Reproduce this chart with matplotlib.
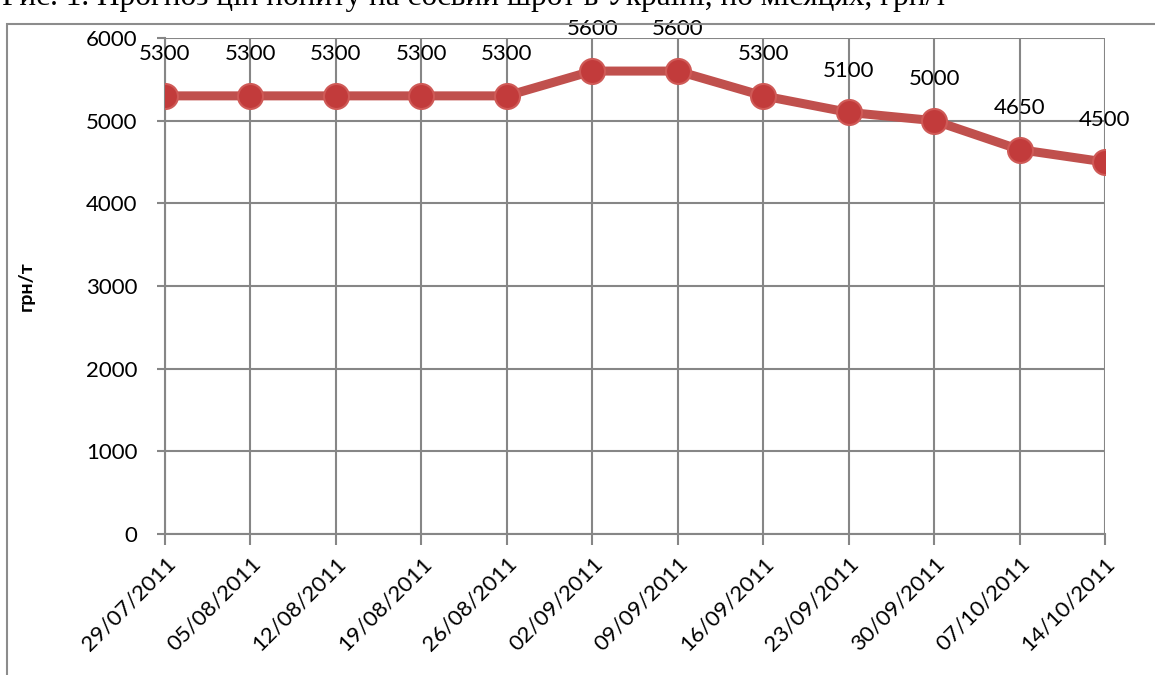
import matplotlib.pyplot as plt
from matplotlib.patches import Rectangle

# дані
dates = ["29/07/2011", "05/08/2011", "12/08/2011", "19/08/2011", "26/08/2011",
         "02/09/2011", "09/09/2011", "16/09/2011", "23/09/2011", "30/09/2011",
         "07/10/2011", "14/10/2011"]
prices = [5300, 5300, 5300, 5300, 5300, 5600, 5600, 5300, 5100, 5000, 4650, 4500]
yticks = [0, 1000, 2000, 3000, 4000, 5000, 6000]

plt.rcParams['font.family'] = ['Lato', 'Open Sans', 'DejaVu Sans']

W, H = 1155, 675
fig = plt.figure(figsize=(W / 100, H / 100), dpi=100)

# рамка навколо діаграми
fig.patches.append(Rectangle((7 / W, -0.1), 1.2, 1 - 24 / H + 0.1, transform=fig.transFigure,
                             fill=False, edgecolor='#8c8c8c', linewidth=1.5))
# підпис рисунка (у оригіналі обрізаний зверху)
fig.text(2 / W, 1 - 4.5 / H, "Рис. 1. Прогноз цін попиту на соєвий шрот в Україні, по місяцях, грн/т",
         family='Liberation Serif', fontsize=22.5, va='baseline', ha='left')

ax = fig.add_axes([165 / W, 1 - 534 / H, (1105 - 165) / W, (534 - 38) / H])
x = list(range(len(dates)))
ax.plot(x, prices, color='#C0504D', linewidth=6.5, solid_capstyle='round', zorder=3)
ax.plot(x, prices, linestyle='none', marker='o', markersize=18,
        markerfacecolor='#C23B3B', markeredgecolor='#CF5A57', markeredgewidth=1.5, zorder=4)
for xi, p in zip(x, prices):
    ax.annotate(str(p), (xi, p), xytext=(0, 30), textcoords='offset points',
                ha='center', va='center', fontsize=16)

ax.set_xlim(0, len(dates) - 1)
ax.set_ylim(0, 6000)
ax.set_yticks(yticks)
ax.set_xticks(x)
ax.set_xticklabels(dates, rotation=45, ha='right', rotation_mode='anchor', fontsize=16)
ax.tick_params(axis='y', labelsize=16, length=6, color='#868686', width=1.5, pad=14)
ax.tick_params(axis='x', length=8, color='#868686', width=1.5, pad=6)
ax.grid(True, color='#868686', linewidth=1.5)
ax.set_axisbelow(True)
for s in ['top', 'right']:
    ax.spines[s].set_visible(False)
for s in ['left', 'bottom']:
    ax.spines[s].set_color('#868686')
    ax.spines[s].set_linewidth(1.5)
ax.set_ylabel("грн/т", fontweight='bold', fontsize=14)
ax.yaxis.set_label_coords(-(165 - 35) / (1105 - 165), 0.5)

fig.savefig("out.png", dpi=100)
